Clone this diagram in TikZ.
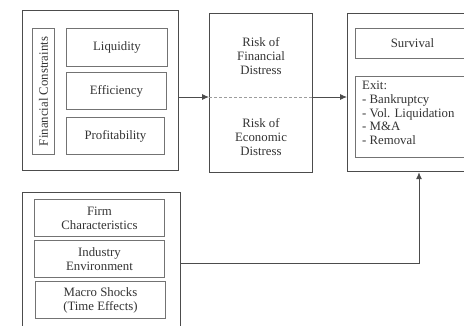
\documentclass[tikz,border=0pt]{standalone}
\usepackage{fontspec}
\setmainfont{Liberation Serif}
\usetikzlibrary{arrows.meta}
\definecolor{lineout}{gray}{0.30}
\definecolor{linein}{gray}{0.45}
\definecolor{txt}{gray}{0.2}
\tikzset{
  outerbox/.style={draw=lineout, line width=1.2pt, anchor=north west, inner sep=0pt},
  innerbox/.style={draw=linein, line width=0.9pt, anchor=north west, inner sep=0pt},
  lbl/.style={text=txt, font=\fontsize{12.8}{14}\selectfont, align=center, inner sep=0pt},
  arr/.style={draw=lineout, line width=0.9pt, -{Latex[length=7pt,width=6pt]}},
  dsh/.style={draw=linein!70, line width=0.8pt, dash pattern=on 3pt off 2pt}
}
\begin{document}
\begin{tikzpicture}[x=1pt,y=-1pt]
\useasboundingbox (0,0) rectangle (464,325);
\clip (0,0) rectangle (464,325);
% top-left group
\node[outerbox, minimum width=156pt, minimum height=160pt] (box1) at (22,10) {};
\node[innerbox, minimum width=22pt, minimum height=126pt] (fc) at (32,28) {};
\node[lbl, rotate=90] (fct) at (fc.center) {Financial Constraints};
\node[innerbox, minimum width=101pt, minimum height=38pt] (liq) at (66,28) {};
\node[lbl] (liqt) at (liq.center) {Liquidity};
\node[innerbox, minimum width=100pt, minimum height=37pt] (eff) at (66,72) {};
\node[lbl] (efft) at (eff.center) {Efficiency};
\node[innerbox, minimum width=98pt, minimum height=37pt] (prof) at (66,117) {};
\node[lbl] (proft) at (prof.center) {Profitability};
% middle box
\node[outerbox, minimum width=103pt, minimum height=159pt] (box2) at (209,13) {};
\node[lbl] (rfd) at (261,56) {Risk of\\Financial\\Distress};
\node[lbl] (red) at (261,137) {Risk of\\Economic\\Distress};
\coordinate (mid) at (0,97);
\draw[dsh] (box2.west |- mid) -- (box2.east |- mid);
% right box
\node[outerbox, minimum width=130pt, minimum height=158pt] (box3) at (347,13) {};
\node[innerbox, minimum width=114pt, minimum height=30pt] (surv) at (355,28) {};
\node[lbl] (survt) at (surv.center) {Survival};
\node[innerbox, minimum width=114pt, minimum height=81pt] (exit) at (355,76) {};
\node[lbl, align=left, anchor=north west, font=\fontsize{12.8}{13.7}\selectfont] (exitt) at (362,81) {Exit:\\- Bankruptcy\\- Vol. Liquidation\\- M\&A\\- Removal};
% bottom-left group
\node[outerbox, minimum width=158pt, minimum height=145pt] (box4) at (22,192) {};
\node[innerbox, minimum width=130pt, minimum height=37pt] (firm) at (34,199) {};
\node[lbl] (firmt) at (firm.center) {Firm\\Characteristics};
\node[innerbox, minimum width=130pt, minimum height=37pt] (ind) at (34,240) {};
\node[lbl] (indt) at (ind.center) {Industry\\Environment};
\node[innerbox, minimum width=130pt, minimum height=37pt] (mac) at (35,281) {};
\node[lbl] (mact) at (mac.center) {Macro Shocks\\(Time Effects)};
% connectors
\draw[arr] (box1.east |- mid) -- (box2.west |- mid);
\draw[arr] (box2.east |- mid) -- (box3.west |- mid);
\coordinate (low) at (0,263);
\coordinate (up) at (419,0);
\draw[arr] (box4.east |- low) -- (up |- low) -- (up |- box3.south);
\end{tikzpicture}
\end{document}
